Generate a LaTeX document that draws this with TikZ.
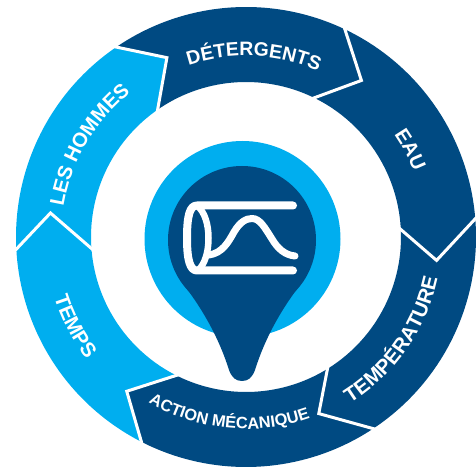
\documentclass[tikz,border=0pt]{standalone}
\usepackage{fontspec}
\setmainfont{Liberation Sans}
\usetikzlibrary{decorations.text}
\definecolor{ringdark}{HTML}{004A82}
\definecolor{ringlight}{HTML}{00AEEF}
\tikzset{
  chevron/.style={draw=white,line width=3pt,miter limit=10},
  iconline/.style={draw=white,line width=8pt,line cap=round,line join=round},
  lensline/.style={draw=white,line width=6.5pt},
  arclabel/.style={decorate,decoration={text along path,text align=center,text={#1}}}
}
\newcommand{\ringseg}[8]{%
  \fill[#1] (#2:230) arc[start angle=#2,end angle=#3,radius=230]
    -- (#4:#5) -- (#6:155) arc[start angle=#6,end angle=#7,radius=155]
    -- #8 -- cycle;}
\newcommand{\lab}[1]{|\fontsize{#1}{#1}\selectfont\bfseries\color{white}|}
\begin{document}
\begin{tikzpicture}[x=1pt,y=1pt]
\useasboundingbox (0,0) rectangle (476,468);
\begin{scope}[shift={(246,231)}]
  % ring segments
  \ringseg{ringdark}{124.8}{65}{53.6}{194.5}{64.6}{125.5}{(113.8:196)}
  \ringseg{ringdark}{65}{5}{-7}{192}{3.5}{64.6}{(53.6:194.5)}
  \ringseg{ringdark}{5}{-56}{-67.6}{191}{-57.6}{3.5}{(-7:192)}
  \ringseg{ringdark}{-56}{-116.6}{-127.7}{195}{-116}{-57.6}{(-67.6:191)}
  \ringseg{ringlight}{-116.6}{-176.5}{-187}{197}{-175}{-116}{(-127.7:195)}
  \ringseg{ringlight}{183.5}{124.8}{113.8}{196}{125.5}{185}{(173:197)}
  % separators
  \draw[chevron] (124.8:232) -- (113.8:196) -- (125.5:153);
  \draw[chevron] (65:232) -- (53.6:194.5) -- (64.6:153);
  \draw[chevron] (5:232) -- (-7:192) -- (3.5:153);
  \draw[chevron] (-56:232) -- (-67.6:191) -- (-57.6:153);
  \draw[chevron] (-116.6:232) -- (-127.7:195) -- (-116:153);
  \draw[chevron] (183.5:232) -- (173:197) -- (185:153);
  % labels
  \path[arclabel={\lab{19.4}DÉTERGENTS}] (125:181) arc[start angle=125,end angle=50,radius=181];
  \path[arclabel={\lab{20}EAU}] (58:180) arc[start angle=58,end angle=-2,radius=180];
  \path[arclabel={\lab{20.6}TEMPÉRATURE}] (-76:196) arc[start angle=-76,end angle=6,radius=196];
  \path[arclabel={\lab{16.4}ACTION MÉCANIQUE}] (-130:192) arc[start angle=-130,end angle=-61,radius=192];
  \path[arclabel={\lab{20.4}TEMPS}] (-190:201) arc[start angle=-190,end angle=-115,radius=201];
  \path[arclabel={\lab{20.2}LES HOMMES}] (190.6:185) arc[start angle=190.6,end angle=108.6,radius=185];
\end{scope}
% centre disc and pin
\fill[ringlight] (242.5,229) circle[radius=98];
\begin{scope}[shift={(0,468)},yscale=-1]
  \fill[ringdark] (242,240) circle[radius=74];
  \fill[ringdark] (180,280) .. controls (200,305) and (218,335) .. (229,370)
     .. controls (232,378) and (236,381) .. (242,381)
     .. controls (248,381) and (252,378) .. (255,370)
     .. controls (266,335) and (284,305) .. (304,280) -- cycle;
  % icon
  \draw[iconline] (293,205.5) -- (197,205.5)
     .. controls (190,205.5) and (187,215) .. (187,238)
     .. controls (187,260) and (190,270.5) .. (197,270.5) -- (293,270.5);
  \draw[lensline] (197,205.5) .. controls (205,212) and (208.5,225) .. (208.5,238)
     .. controls (208.5,252) and (205,264) .. (198,270.5);
  \draw[iconline,line width=7pt] (209,255) .. controls (222,253) and (228,243) .. (234,232)
     .. controls (240,222) and (246,218.5) .. (252,218.5)
     .. controls (260,218.5) and (265,228) .. (272,239)
     .. controls (278,249) and (285,255) .. (295,256);
\end{scope}
\end{tikzpicture}
\end{document}
